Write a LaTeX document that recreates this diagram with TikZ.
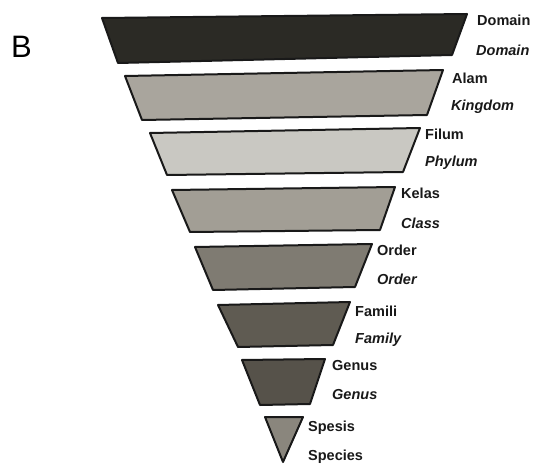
\documentclass[tikz,border=0pt]{standalone}
\usepackage{fontspec}
\setmainfont{Liberation Sans}
\begin{document}
\begin{tikzpicture}[x=1pt,y=-1pt,
  tier/.style={draw=black!90,line width=2pt,line join=round},
  lab/.style={anchor=west,font=\bfseries\fontsize{14.5}{16}\selectfont,text=black!90,inner sep=0pt},
  ilab/.style={lab,font=\bfseries\itshape\fontsize{14.5}{16}\selectfont}]
\useasboundingbox[fill=white] (0,0) rectangle (544,473);
\definecolor{cDom}{HTML}{2B2A25}
\definecolor{cAlam}{HTML}{A9A59D}
\definecolor{cFil}{HTML}{C9C8C2}
\definecolor{cKel}{HTML}{A29E95}
\definecolor{cOrd}{HTML}{7F7B72}
\definecolor{cFam}{HTML}{5F5B52}
\definecolor{cGen}{HTML}{56524A}
\definecolor{cSpe}{HTML}{8A867D}
\node[anchor=west,font=\fontsize{31}{34}\selectfont,inner sep=0pt] (B) at (11,47) {B};
\draw[tier,fill=cDom] (102,18) -- (467,14) -- (452,55) -- (118,63) -- cycle;
\draw[tier,fill=cAlam] (125,76) -- (443,70) -- (427,115) -- (142,120) -- cycle;
\draw[tier,fill=cFil] (150,133) -- (420,128) -- (403,172) -- (167,175) -- cycle;
\draw[tier,fill=cKel] (172,190) -- (395,187) -- (380,230) -- (190,232) -- cycle;
\draw[tier,fill=cOrd] (195,247) -- (372,244) -- (355,287) -- (213,290) -- cycle;
\draw[tier,fill=cFam] (218,305) -- (350,302) -- (333,345) -- (238,347) -- cycle;
\draw[tier,fill=cGen] (242,360) -- (325,359) -- (310,404) -- (260,405) -- cycle;
\draw[tier,fill=cSpe] (265,417) -- (303,417) -- (283,462) -- cycle;
\node[lab] (l1) at (477,20) {Domain};
\node[ilab] (l1e) at (476,50) {Domain};
\node[lab] (l2) at (452,78) {Alam};
\node[ilab] (l2e) at (451,107) {Kingdom};
\node[lab] (l3) at (425,134) {Filum};
\node[ilab] (l3e) at (425,163) {Phylum};
\node[lab] (l4) at (401,193) {Kelas};
\node[ilab] (l4e) at (401,223) {Class};
\node[lab] (l5) at (377,250) {Order};
\node[ilab] (l5e) at (377,279) {Order};
\node[lab] (l6) at (355,311) {Famili};
\node[ilab] (l6e) at (355,340) {Family};
\node[lab] (l7) at (332,366) {Genus};
\node[ilab] (l7e) at (332,395) {Genus};
\node[lab] (l8) at (308,428) {Spesis};
\node[lab] (l8e) at (308,457) {Species};
\end{tikzpicture}
\end{document}
